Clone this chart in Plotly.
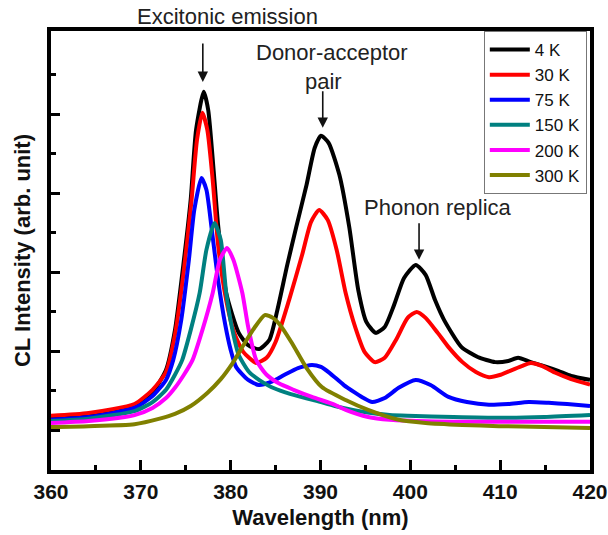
import plotly.graph_objects as go

# Cathodoluminescence spectra at several temperatures (arbitrary intensity units)
temperatures = ["4 K", "30 K", "75 K", "150 K", "200 K", "300 K"]
colors = ["#000000", "#FF0000", "#0000FF", "#008080", "#FF00FF", "#808000"]

wl_4k = [360, 364.2, 369.3, 371.3, 372.8, 373.8, 374.8, 375.55, 376.15, 377.0, 377.5, 378.1, 378.6,
         379.5, 380.9, 381.95, 383.15, 384.3, 385.2, 386.3, 387.3, 388.45, 389.35, 390.05, 390.9,
         392.1, 393.2, 394.2, 395.1, 396.15, 397.15, 398.2, 399.3, 400.6, 401.7, 402.75, 403.75,
         405.7, 407.5, 409.45, 410.9, 412.0, 413.4, 414.9, 416.45, 417.9, 420]
cl_4k = [1.32, 1.39, 1.62, 1.97, 2.53, 3.54, 5.32, 6.84, 8.61, 9.57, 9.11, 7.59, 6.2,
         4.48, 3.47, 3.16, 3.06, 3.29, 4.05, 5.19, 6.15, 7.22, 8.15, 8.46, 8.28,
         7.47, 6.15, 4.56, 3.75, 3.47, 3.62, 4.18, 4.86, 5.19, 4.94, 4.3, 3.8,
         3.11, 2.86, 2.73, 2.76, 2.84, 2.73, 2.63, 2.51, 2.38, 2.28]

wl_30k = [360, 364.2, 369.3, 371.3, 372.8, 373.8, 374.8, 375.65, 376.25, 376.85, 377.4, 378.0, 378.6,
          379.5, 380.4, 381.4, 382.85, 384.0, 385.0, 386.5, 387.95, 388.95, 389.85, 390.8, 391.8,
          392.8, 393.9, 394.9, 396.05, 397.15, 398.4, 399.7, 400.7, 401.7, 403.05, 404.25, 405.8,
          407.3, 408.75, 410.05, 411.3, 412.4, 413.4, 414.7, 416.15, 417.9, 420]
cl_30k = [1.37, 1.44, 1.67, 2.03, 2.48, 3.42, 5.06, 6.84, 8.35, 9.04, 8.61, 7.34, 5.7,
          4.3, 3.47, 2.99, 2.71, 2.84, 3.24, 4.3, 5.44, 6.28, 6.58, 6.33, 5.57,
          4.48, 3.59, 2.99, 2.73, 2.84, 3.29, 3.85, 4.0, 3.85, 3.47, 3.11, 2.73,
          2.48, 2.35, 2.41, 2.53, 2.63, 2.71, 2.63, 2.46, 2.3, 2.16]

wl_75k = [360, 364.2, 369.3, 371.3, 372.8, 373.6, 374.5, 375.35, 375.95, 376.75, 377.3, 377.9, 378.6,
          379.4, 380.0, 380.6, 381.95, 383.15, 384.5, 386.0, 387.5, 389.05, 390.05, 391.0, 392.6,
          393.9, 394.8, 395.75, 397.15, 398.7, 400.6, 402.25, 404.25, 406.3, 408.75, 410.9,
          413.2, 415.4, 417.45, 420]
cl_75k = [1.27, 1.34, 1.57, 1.87, 2.28, 2.78, 3.8, 5.32, 6.58, 7.39, 7.09, 6.08, 4.81,
          3.67, 3.04, 2.61, 2.28, 2.15, 2.23, 2.41, 2.58, 2.66, 2.61, 2.46, 2.15,
          1.95, 1.82, 1.72, 1.82, 2.08, 2.28, 2.15, 1.85, 1.72, 1.65, 1.67,
          1.72, 1.7, 1.67, 1.62]

wl_150k = [360, 364.2, 369.3, 371.3, 372.8, 373.8, 374.6, 375.55, 376.55, 377.3, 378.2, 378.9, 379.5,
           380.2, 380.9, 382.05, 383.15, 384.5, 386.0, 387.5, 389.55, 391.6, 393.6, 395.65, 397.7,
           399.7, 404.8, 409.85, 414.9, 420]
cl_150k = [1.24, 1.3, 1.49, 1.72, 2.03, 2.41, 2.78, 3.54, 4.48, 5.57, 6.25, 5.82, 4.48,
           3.54, 2.91, 2.48, 2.28, 2.1, 1.97, 1.87, 1.75, 1.62, 1.52, 1.44, 1.39,
           1.37, 1.34, 1.32, 1.34, 1.39]

wl_200k = [360, 364.2, 369.3, 371.3, 372.8, 373.8, 374.8, 375.75, 376.85, 378.0, 378.8, 379.6, 380.3,
           381.3, 381.95, 382.85, 384.0, 385.3, 387.0, 389.05, 391.6, 392.8, 395.3, 397.7, 400.7,
           404.8, 409.85, 414.9, 420]
cl_200k = [1.19, 1.24, 1.39, 1.57, 1.82, 2.08, 2.41, 2.78, 3.54, 4.48, 5.32, 5.62, 5.32,
           4.48, 3.62, 2.78, 2.41, 2.2, 2.03, 1.85, 1.65, 1.52, 1.34, 1.27, 1.24,
           1.22, 1.22, 1.22, 1.22]

wl_300k = [360, 364.2, 369.3, 372.1, 373.8, 375.55, 377.4, 378.9, 380.2, 381.4, 382.65, 383.8, 384.7,
           385.5, 386.8, 388.45, 390.15, 392.8, 395.3, 398.7, 401.7, 405.8, 409.85, 414.9, 420]
cl_300k = [1.09, 1.11, 1.16, 1.3, 1.42, 1.62, 1.95, 2.3, 2.7, 3.15, 3.6, 3.92, 3.85,
           3.67, 3.22, 2.58, 2.1, 1.77, 1.52, 1.27, 1.19, 1.14, 1.11, 1.09, 1.06]

wavelengths = [wl_4k, wl_30k, wl_75k, wl_150k, wl_200k, wl_300k]
intensities = [cl_4k, cl_30k, cl_75k, cl_150k, cl_200k, cl_300k]

x_ticks = [360, 370, 380, 390, 400, 410, 420]

FONT = "Arial, Liberation Sans, sans-serif"

fig = go.Figure()
for name, color, wl, cl in zip(temperatures, colors, wavelengths, intensities):
    fig.add_trace(go.Scatter(
        x=wl, y=cl, name=name, mode="lines",
        line=dict(color=color, width=4, shape="spline", smoothing=0.6),
    ))

# Peak labels (paper coordinates so the top one may sit above the frame)
peak_labels = [
    dict(text="Excitonic emission", x=0.3275, y=1.032),
    dict(text="Donor-acceptor", x=0.5213, y=0.952),
    dict(text="pair", x=0.5056, y=0.886),
    dict(text="Phonon replica", x=0.718, y=0.599),
]
for lab in peak_labels:
    fig.add_annotation(x=lab["x"], y=lab["y"], xref="paper", yref="paper",
                       xanchor="center", yanchor="middle",
                       text=lab["text"], showarrow=False,
                       font=dict(family=FONT, size=22, color="#222"))

# Arrows pointing at the three emission peaks
arrow_tips = [(376.9, 9.82, -40), (390.25, 8.66, -38), (400.97, 5.32, -38)]
for ax_x, ax_y, tail in arrow_tips:
    fig.add_annotation(x=ax_x, y=ax_y, text="", showarrow=True, arrowhead=2,
                       arrowsize=1.3, arrowwidth=1.6, arrowcolor="#111",
                       ax=0, ay=tail)

fig.update_layout(
    width=608, height=535,
    margin=dict(l=51, r=18, t=31, b=65),
    paper_bgcolor="white", plot_bgcolor="white",
    font=dict(family=FONT, color="#111"),
    legend=dict(
        x=0.803, y=1, xanchor="left", yanchor="top",
        bgcolor="white", bordercolor="#777", borderwidth=1,
        font=dict(family=FONT, size=17, color="#111"),
        tracegroupgap=0, itemwidth=40,
    ),
    xaxis=dict(
        range=[360, 420], tickvals=x_ticks, ticks="inside", ticklen=10, tickwidth=3,
        tickcolor="black", showline=True, linecolor="black", linewidth=4, mirror=True,
        showgrid=False, zeroline=False, automargin=False, ticklabeloverflow="allow",
        tickfont=dict(family=FONT, size=21, color="#111", weight="bold"),
        minor=dict(dtick=5, ticks="inside", ticklen=5, tickwidth=3, tickcolor="black",
                   showgrid=False),
        title=dict(text="<b>Wavelength (nm)</b>", font=dict(family=FONT, size=22, color="#111"),
                   standoff=8),
    ),
    yaxis=dict(
        range=[0, 11.11], tickvals=[1, 3, 5, 7, 9], ticks="inside", ticklen=9, tickwidth=3,
        tickcolor="black", showticklabels=False, showline=True, linecolor="black",
        linewidth=4, mirror=True, showgrid=False, zeroline=False, automargin=False,
        minor=dict(tickvals=[2, 4, 6, 8, 10], ticks="inside", ticklen=5, tickwidth=3,
                   tickcolor="black", showgrid=False),
        title=dict(text="<b>CL Intensity (arb. unit)</b>",
                   font=dict(family=FONT, size=22, color="#111"), standoff=11),
    ),
)

fig.write_html("out.html")
